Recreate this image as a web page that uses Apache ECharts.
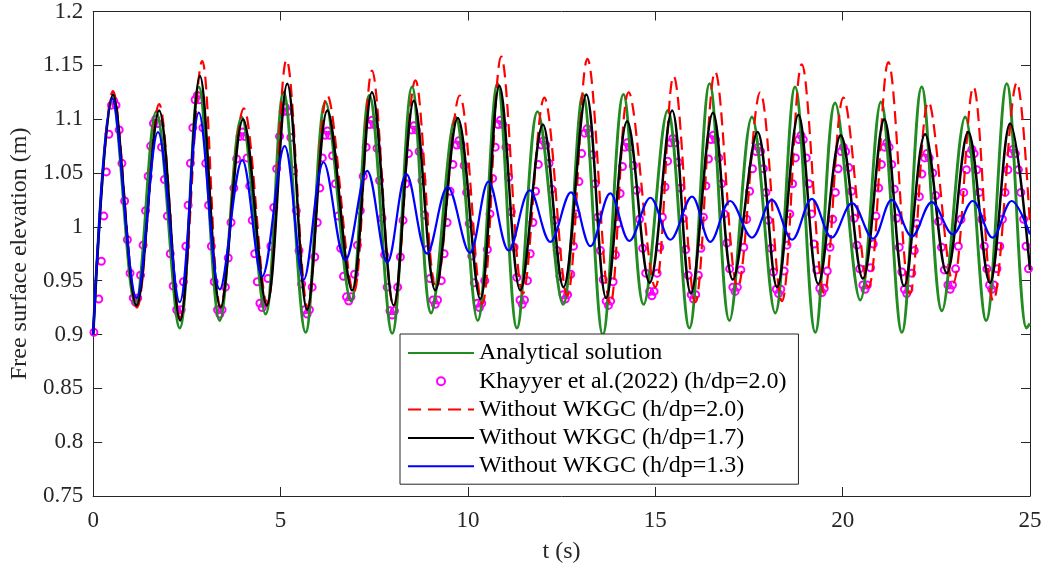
<!DOCTYPE html>
<html><head><meta charset="utf-8">
<script src="https://cdn.jsdelivr.net/npm/echarts@6/dist/echarts.min.js"></script>
<style>html,body{margin:0;padding:0;background:#fff}#c{width:1047px;height:572px}</style>
</head><body><div id="c"></div>
<script>
const FONT = '"Liberation Serif","Times New Roman",serif';
const xTickLabels = ['0','5','10','15','20','25'];
const yTickLabels = ['0.75','0.8','0.85','0.9','0.95','1','1.05','1.1','1.15','1.2'];
const seriesNames = ['Analytical solution','Khayyer et al.(2022) (h/dp=2.0)','Without WKGC (h/dp=2.0)','Without WKGC (h/dp=1.7)','Without WKGC (h/dp=1.3)'];

// Analytical solution (extrema)
const greenT = [0,0.51,1.13,1.68,2.31,2.82,3.38,3.96,4.6,5.08,5.67,6.2,6.88,7.37,7.98,8.51,9.02,9.67,10.26,10.79,11.31,11.86,12.54,13.07,13.6,14.15,14.69,15.33,15.91,16.45,16.98,17.58,18.2,18.73,19.27,19.8,20.47,21.02,21.58,22.11,22.65,23.27,23.83,24.38,24.91,25];
const greenV = [0.900,1.120,0.927,1.107,0.906,1.130,0.913,1.102,0.919,1.125,0.902,1.116,0.931,1.122,0.901,1.130,0.920,1.102,0.913,1.133,0.906,1.107,0.928,1.123,0.900,1.123,0.928,1.108,0.906,1.133,0.913,1.102,0.920,1.130,0.902,1.115,0.932,1.116,0.902,1.130,0.922,1.102,0.913,1.133,0.906,0.910];

// Without WKGC h/dp=2.0
const redT = [0,0.53,1.17,1.76,2.32,2.91,3.4,4.02,4.64,5.16,5.73,6.25,6.95,7.44,8.02,8.6,9.15,9.78,10.38,10.89,11.47,12.04,12.65,13.19,13.8,14.29,15.0,15.49,16.07,16.6,17.2,17.8,18.38,18.91,19.51,20.02,20.69,21.22,21.8,22.29,22.95,23.49,24.02,24.65,25];
const redV = [0.900,1.126,0.925,1.114,0.915,1.154,0.926,1.110,0.928,1.155,0.925,1.122,0.939,1.145,0.926,1.136,0.943,1.122,0.928,1.158,0.938,1.120,0.936,1.156,0.928,1.125,0.944,1.140,0.930,1.144,0.944,1.125,0.931,1.151,0.938,1.120,0.944,1.153,0.938,1.116,0.948,1.130,0.931,1.134,1.000];

// Without WKGC h/dp=1.7
const blackT = [0,0.53,1.16,1.76,2.32,2.85,3.4,4.0,4.63,5.18,5.71,6.25,6.91,7.44,8.02,8.56,9.13,9.73,10.33,10.84,11.4,12.0,12.55,13.16,13.69,14.25,14.85,15.45,15.95,16.54,17.07,17.73,18.25,18.82,19.35,19.95,20.54,21.11,21.64,22.2,22.78,23.35,23.93,24.47,25];
const blackV = [0.900,1.123,0.927,1.108,0.913,1.140,0.925,1.100,0.927,1.133,0.923,1.108,0.941,1.125,0.927,1.117,0.941,1.101,0.933,1.131,0.941,1.095,0.944,1.123,0.934,1.098,0.948,1.108,0.938,1.106,0.951,1.088,0.944,1.104,0.947,1.085,0.952,1.100,0.945,1.086,0.957,1.088,0.948,1.096,0.960];

// Without WKGC h/dp=1.3
const blueT = [0,0.51,1.16,1.73,2.31,2.82,3.38,3.98,4.51,5.11,5.62,6.15,6.73,7.31,7.85,8.36,8.91,9.46,10.05,10.55,11.09,11.65,12.2,12.75,13.27,13.8,14.31,14.87,15.4,15.98,16.47,17.0,17.58,18.11,18.65,19.18,19.71,20.25,20.81,21.31,21.85,22.38,22.94,23.47,24.0,24.51,25];
const blueV = [0.900,1.119,0.934,1.088,0.930,1.106,0.942,1.062,0.954,1.075,0.951,1.060,0.969,1.052,0.967,1.049,0.975,1.037,0.976,1.042,0.978,1.034,0.986,1.032,0.982,1.031,0.987,1.027,0.988,1.028,0.986,1.024,0.990,1.025,0.988,1.026,0.990,1.022,0.989,1.025,0.991,1.023,0.993,1.024,0.990,1.024,0.993];

// Khayyer et al. (2022) markers [t, eta]
const khayyerPts = [
[0.02,0.902],[0.15,0.933],[0.285,1.010],[0.42,1.086],[0.49,1.113],[0.55,1.117],[0.61,1.113],[0.695,1.090],[0.84,1.024],[0.985,0.957],
[1.07,0.934],[1.13,0.930],[1.19,0.934],[1.265,0.955],[1.40,1.015],[1.535,1.075],[1.61,1.096],[1.67,1.100],[1.73,1.096],[1.825,1.074],[1.98,1.010],[2.135,0.945],
[2.23,0.923],[2.29,0.919],[2.35,0.923],[2.41,0.949],[2.535,1.020],[2.66,1.092],[2.72,1.118],[2.78,1.122],[2.84,1.118],[2.93,1.092],[3.08,1.020],[3.23,0.949],
[3.32,0.923],[3.38,0.919],[3.44,0.923],[3.53,0.944],[3.68,1.004],[3.83,1.063],[3.92,1.084],[3.98,1.088],[4.04,1.084],[4.11,1.064],[4.245,1.006],[4.38,0.949],
[4.45,0.929],[4.51,0.925],[4.57,0.929],[4.665,0.952],[4.82,1.018],[4.975,1.084],[5.07,1.107],[5.13,1.111],[5.19,1.107],[5.275,1.083],[5.42,1.015],[5.565,0.947],
[5.65,0.923],[5.71,0.919],[5.77,0.923],[5.845,0.944],[5.98,1.004],[6.115,1.064],[6.19,1.085],[6.25,1.089],[6.31,1.085],[6.39,1.066],[6.535,1.010],[6.68,0.954],
[6.76,0.935],[6.82,0.931],[6.88,0.935],[6.975,0.956],[7.13,1.015],[7.285,1.074],[7.38,1.095],[7.44,1.099],[7.50,1.095],[7.575,1.073],[7.71,1.008],[7.845,0.944],
[7.92,0.922],[7.98,0.918],[8.04,0.922],[8.125,0.944],[8.27,1.006],[8.415,1.068],[8.50,1.090],[8.56,1.094],[8.62,1.090],[8.70,1.070],[8.845,1.011],[8.99,0.952],
[9.07,0.932],[9.13,0.928],[9.19,0.932],[9.29,0.950],[9.445,1.004],[9.60,1.058],[9.70,1.076],[9.76,1.080],[9.82,1.076],[9.90,1.057],[10.035,1.003],[10.17,0.948],
[10.25,0.929],[10.31,0.925],[10.37,0.929],[10.45,0.950],[10.59,1.012],[10.73,1.074],[10.81,1.095],[10.87,1.099],[10.93,1.095],[11.015,1.074],[11.16,1.014],[11.305,0.953],
[11.39,0.932],[11.45,0.928],[11.51,0.932],[11.59,0.950],[11.735,1.004],[11.88,1.058],[11.96,1.076],[12.02,1.080],[12.08,1.076],[12.165,1.059],[12.31,1.006],[12.455,0.954],
[12.54,0.937],[12.60,0.933],[12.66,0.937],[12.745,0.956],[12.89,1.012],[13.035,1.068],[13.12,1.087],[13.18,1.091],[13.24,1.087],[13.32,1.067],[13.465,1.009],[13.61,0.951],
[13.69,0.931],[13.75,0.927],[13.81,0.931],[13.875,0.949],[14.00,1.003],[14.125,1.056],[14.19,1.074],[14.25,1.078],[14.31,1.074],[14.415,1.057],[14.58,1.007],[14.745,0.957],
[14.85,0.940],[14.91,0.936],[14.97,0.940],[15.05,0.957],[15.19,1.009],[15.33,1.061],[15.41,1.078],[15.47,1.082],[15.53,1.078],[15.61,1.060],[15.745,1.008],[15.88,0.955],
[15.96,0.937],[16.02,0.933],[16.08,0.937],[16.15,0.955],[16.285,1.009],[16.42,1.063],[16.49,1.081],[16.55,1.085],[16.61,1.081],[16.695,1.064],[16.84,1.012],[16.985,0.961],
[17.07,0.944],[17.13,0.940],[17.19,0.944],[17.285,0.960],[17.44,1.007],[17.595,1.054],[17.69,1.070],[17.75,1.074],[17.81,1.070],[17.885,1.054],[18.02,1.006],[18.155,0.958],
[18.23,0.942],[18.29,0.938],[18.35,0.942],[18.44,0.959],[18.59,1.012],[18.74,1.064],[18.83,1.081],[18.89,1.085],[18.95,1.081],[19.03,1.064],[19.17,1.012],[19.31,0.960],
[19.39,0.943],[19.45,0.939],[19.51,0.943],[19.59,0.959],[19.735,1.007],[19.88,1.054],[19.96,1.070],[20.02,1.074],[20.08,1.070],[20.165,1.055],[20.31,1.008],[20.455,0.961],
[20.54,0.946],[20.60,0.942],[20.66,0.946],[20.745,0.962],[20.89,1.010],[21.035,1.058],[21.12,1.074],[21.18,1.078],[21.24,1.074],[21.31,1.058],[21.445,1.008],[21.58,0.958],
[21.65,0.942],[21.71,0.938],[21.77,0.942],[21.845,0.957],[21.98,1.003],[22.115,1.049],[22.19,1.064],[22.25,1.068],[22.31,1.064],[22.405,1.050],[22.56,1.005],[22.715,0.960],
[22.81,0.946],[22.87,0.942],[22.93,0.946],[23.015,0.961],[23.16,1.007],[23.305,1.053],[23.39,1.068],[23.45,1.072],[23.51,1.068],[23.58,1.053],[23.715,1.007],[23.85,0.961],
[23.92,0.946],[23.98,0.942],[24.04,0.946],[24.12,0.961],[24.265,1.007],[24.41,1.053],[24.49,1.068],[24.55,1.072],[24.61,1.068],[24.69,1.053],[24.83,1.007],[24.96,0.961],
[0.219,0.968],[0.351,1.051],[0.768,1.059],[0.913,0.988],[1.333,0.983],[1.468,1.047],[1.903,1.044],[2.058,0.975],[2.474,0.982],[2.596,1.059],
[3.005,1.059],[3.155,0.982],[3.605,0.971],[3.755,1.036],[4.179,1.038],[4.311,0.975],[4.743,0.982],[4.898,1.054],[5.348,1.052],[5.493,0.978],
[5.913,0.972],[6.048,1.036],[6.464,1.040],[6.606,0.980],[7.053,0.983],[7.208,1.047],[7.643,1.043],[7.778,0.974],[8.198,0.972],[8.343,1.040],
[8.774,1.043],[8.916,0.979],[9.366,0.975],[9.524,1.033],[9.966,1.032],[10.104,0.973],[10.52,0.979],[10.66,1.045],[11.088,1.046],[11.233,0.981],
[11.664,0.975],[11.806,1.033],[12.238,1.035],[12.383,0.978],[12.818,0.982],[12.963,1.042],[13.394,1.040],[13.536,0.978],[13.938,0.974],[14.063,1.031],
[14.498,1.034],[14.663,0.980],[15.12,0.981],[15.26,1.037],[15.676,1.036],[15.814,0.979],[16.219,0.980],[16.351,1.038],[16.768,1.040],[16.913,0.985],
[17.363,0.981],[17.518,1.033],[17.953,1.032],[18.088,0.980],[18.515,0.983],[18.665,1.040],[19.10,1.040],[19.24,0.984],[19.664,0.981],[19.806,1.032],
[20.238,1.033],[20.383,0.983],[20.818,0.984],[20.963,1.036],[21.379,1.035],[21.511,0.981],[21.913,0.978],[22.048,1.028],[22.483,1.029],[22.638,0.981],
[23.088,0.982],[23.233,1.032],[23.649,1.032],[23.781,0.982],[24.194,0.982],[24.336,1.032],[24.756,1.032],[24.894,0.982]
];

const zip = (t, v) => t.map((x, i) => [x, v[i]]);
const AX = '#262626';
const axLine = {show: true, onZero: false, lineStyle: {color: AX, width: 1}};
const axTick = {show: true, inside: true, length: 9, lineStyle: {color: AX, width: 1}};
const hiddenSymbol = {opacity: 0};

const chart = echarts.init(document.getElementById('c'), null, {renderer: 'canvas'});
chart.setOption({
  animation: false,
  backgroundColor: '#fff',
  grid: {left: 92.5, right: 17, top: 8, bottom: 76, containLabel: false},
  xAxis: [
    {type: 'value', min: 0, max: 25, interval: 5, position: 'bottom',
     axisLine: axLine, axisTick: axTick, splitLine: {show: false},
     axisLabel: {color: AX, fontFamily: FONT, fontSize: 23, margin: 13,
       formatter: v => xTickLabels[Math.round(v / 5)]},
     name: 't (s)', nameLocation: 'middle', nameGap: 44,
     nameTextStyle: {color: AX, fontFamily: FONT, fontSize: 24}},
    {type: 'value', min: 0, max: 25, interval: 5, position: 'top',
     axisLine: axLine, axisTick: axTick, splitLine: {show: false}, axisLabel: {show: false}}
  ],
  yAxis: [
    {type: 'value', min: 0.75, max: 1.2, interval: 0.05, position: 'left',
     axisLine: axLine, axisTick: axTick, splitLine: {show: false},
     axisLabel: {color: AX, fontFamily: FONT, fontSize: 23, margin: 10,
       formatter: v => yTickLabels[Math.round((v - 0.75) / 0.05)]},
     name: 'Free surface elevation (m)', nameLocation: 'middle', nameGap: 60,
     nameTextStyle: {color: AX, fontFamily: FONT, fontSize: 24}},
    {type: 'value', min: 0.75, max: 1.2, interval: 0.05, position: 'right',
     axisLine: axLine, axisTick: axTick, splitLine: {show: false}, axisLabel: {show: false}}
  ],
  legend: {
    orient: 'vertical', left: 400, top: 334,
    backgroundColor: '#fff', borderColor: AX, borderWidth: 1, borderRadius: 0,
    padding: [7, 12, 6, 7],
    itemWidth: 66, itemHeight: 8, itemGap: 4.3,
    textStyle: {fontFamily: FONT, fontSize: 24, color: '#000', lineHeight: 24},
    data: [
      {name: seriesNames[0], itemStyle: hiddenSymbol},
      {name: seriesNames[1]},
      {name: seriesNames[2], itemStyle: hiddenSymbol},
      {name: seriesNames[3], itemStyle: hiddenSymbol},
      {name: seriesNames[4], itemStyle: hiddenSymbol}
    ]
  },
  series: [
    {name: seriesNames[0], type: 'line', data: zip(greenT, greenV), smooth: 0.36,
     symbol: 'none', showSymbol: false, lineStyle: {color: '#228B22', width: 2.9}, itemStyle: {color: '#228B22'}},
    {name: seriesNames[1], type: 'scatter', data: khayyerPts, symbol: 'circle', symbolSize: 7,
     itemStyle: {color: 'rgba(255,255,255,0)', borderColor: '#FF00FF', borderWidth: 2, opacity: 1}},
    {name: seriesNames[2], type: 'line', data: zip(redT, redV), smooth: 0.36,
     symbol: 'none', showSymbol: false, lineStyle: {color: '#FF0000', width: 2.2, type: [13, 7]}, itemStyle: {color: '#FF0000'}},
    {name: seriesNames[3], type: 'line', data: zip(blackT, blackV), smooth: 0.36,
     symbol: 'none', showSymbol: false, lineStyle: {color: '#000000', width: 2.5}, itemStyle: {color: '#000000'}},
    {name: seriesNames[4], type: 'line', data: zip(blueT, blueV), smooth: 0.36,
     symbol: 'none', showSymbol: false, lineStyle: {color: '#0000FF', width: 2.2}, itemStyle: {color: '#0000FF'}}
  ]
});
</script></body></html>
